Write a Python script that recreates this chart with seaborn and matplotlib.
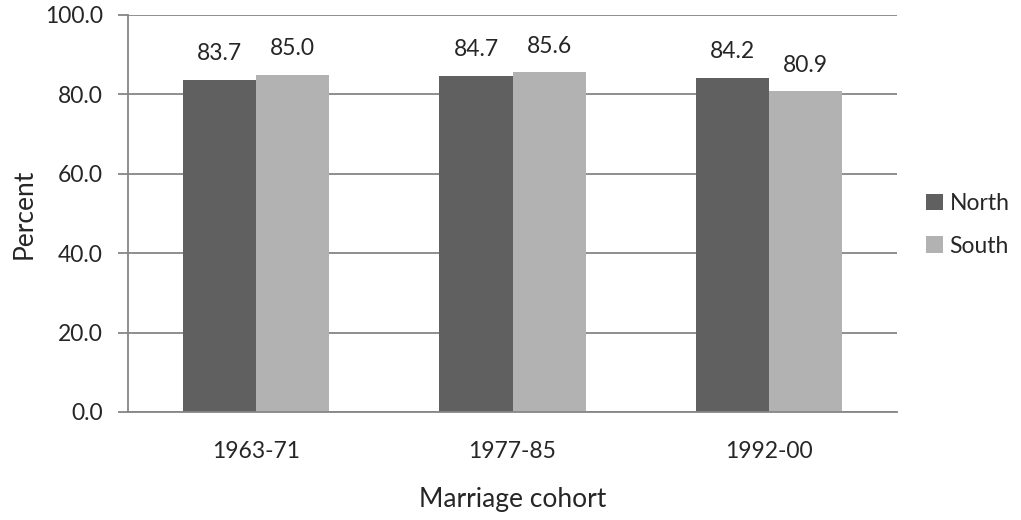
import numpy as np
import matplotlib
matplotlib.use("Agg")
import matplotlib.pyplot as plt
import pandas as pd
import seaborn as sns

# data
cohorts = ["1963-71", "1977-85", "1992-00"]
north = [83.7, 84.7, 84.2]
south = [85.0, 85.6, 80.9]
regions = ["North", "South"]

df = pd.DataFrame({
    "cohort": cohorts * 2,
    "region": ["North"] * 3 + ["South"] * 3,
    "pct": north + south,
})

sns.set_style("white")
plt.rcParams["font.family"] = ["Lato", "DejaVu Sans"]

fig = plt.figure(figsize=(10.21, 5.2), dpi=100)
ax = fig.add_axes([0.1254, 0.2077, 0.7532, 0.7635])

grid_col = "#868686"
ax.set_axisbelow(True)
ax.yaxis.grid(True, color=grid_col, linewidth=1.3)

sns.barplot(data=df, x="cohort", y="pct", hue="region", hue_order=regions,
            palette=["#606060", "#b2b2b2"], width=0.57, saturation=1,
            linewidth=0, ax=ax, legend=True)

for c in ax.containers:
    ax.bar_label(c, fmt="%.1f", padding=11, fontsize=16.5)

ax.set_ylim(0, 100)
ax.set_yticks(np.arange(0, 101, 20))
ax.set_yticklabels([f"{v:.1f}" for v in np.arange(0, 101, 20)], fontsize=16.5)
ax.set_xlim(-0.5, 2.5)
ax.set_xticks(range(3))
ax.set_xticklabels(cohorts, fontsize=16.5)
ax.set_xticks([-0.5, 0.5, 1.5, 2.5], minor=True)
ax.tick_params(axis="x", which="major", length=0, pad=21)
ax.tick_params(axis="x", which="minor", length=6, width=1.3, color=grid_col, direction="out")
ax.tick_params(axis="y", length=7, width=1.3, color=grid_col, direction="out", pad=11, left=True)

for s in ["top", "right"]:
    ax.spines[s].set_visible(False)
for s in ["left", "bottom"]:
    ax.spines[s].set_color(grid_col)
    ax.spines[s].set_linewidth(1.3)

ax.set_xlabel("Marriage cohort", fontsize=19, labelpad=18)
ax.set_ylabel("Percent", fontsize=19, labelpad=6)

leg = ax.legend(loc="center left", bbox_to_anchor=(0.907, 0.568), bbox_transform=fig.transFigure,
                frameon=False, fontsize=16.5, handlelength=0.72, handleheight=0.72,
                handletextpad=0.3, labelspacing=0.95, borderaxespad=0, borderpad=0)

fig.savefig("out.png", dpi=100)
